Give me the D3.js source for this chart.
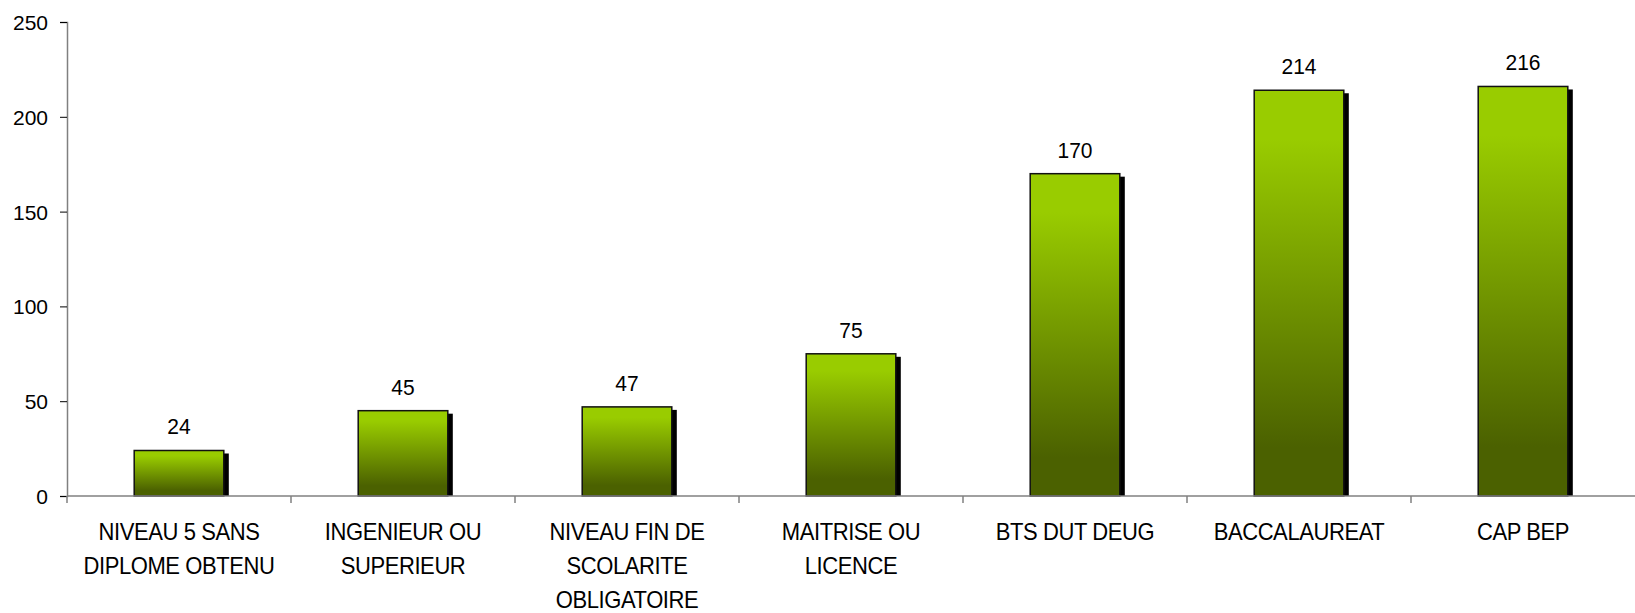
<!DOCTYPE html>
<html>
<head>
<meta charset="utf-8">
<script src="https://cdn.jsdelivr.net/npm/d3@7"></script>
<style>
  body { margin: 0; background: #fff; }
  svg text { font-family: "Liberation Sans", Arial, sans-serif; fill: #000; }
</style>
</head>
<body>
<script>
// donnees du graphique
var categories = [
    "NIVEAU 5 SANS\nDIPLOME OBTENU",
    "INGENIEUR OU\nSUPERIEUR",
    "NIVEAU FIN DE\nSCOLARITE\nOBLIGATOIRE",
    "MAITRISE OU\nLICENCE",
    "BTS DUT DEUG",
    "BACCALAUREAT",
    "CAP BEP"
];
var effectifs = [24, 45, 47, 75, 170, 214, 216];
var yTicks = [0, 50, 100, 150, 200, 250];

var width = 1635;
var height = 613;
var margin = { top: 22, right: 0, bottom: 117, left: 67 };

var svg = d3.select("body").append("svg")
    .attr("width", width)
    .attr("height", height);

var x = d3.scaleBand()
    .domain(categories)
    .range([margin.left, width - margin.right])
    .paddingInner(0)
    .paddingOuter(0);

var y = d3.scaleLinear()
    .domain([0, 250])
    .range([height - margin.bottom, margin.top]);

// degrade vert des barres
var grad = svg.append("defs").append("linearGradient")
    .attr("id", "vert")
    .attr("x1", 0).attr("y1", 0)
    .attr("x2", 0).attr("y2", 1);
grad.append("stop").attr("offset", "0%").attr("stop-color", "#99cc00");
grad.append("stop").attr("offset", "12%").attr("stop-color", "#99cc00");
grad.append("stop").attr("offset", "88%").attr("stop-color", "#4b6100");
grad.append("stop").attr("offset", "100%").attr("stop-color", "#4b6100");

var barW = x.bandwidth() * 0.40;

var bars = svg.selectAll(".barre")
    .data(effectifs)
    .enter()
    .append("g")
    .attr("class", "barre");

// ombre noire
bars.append("rect")
    .attr("x", function (d, i) { return x(categories[i]) + (x.bandwidth() - barW) / 2 + 5; })
    .attr("y", function (d) { return y(d) + 3; })
    .attr("width", barW)
    .attr("height", function (d) { return y(0) - y(d) - 3; })
    .attr("fill", "#000");

bars.append("rect")
    .attr("x", function (d, i) { return x(categories[i]) + (x.bandwidth() - barW) / 2; })
    .attr("y", function (d) { return y(d); })
    .attr("width", barW)
    .attr("height", function (d) { return y(0) - y(d); })
    .attr("fill", "url(#vert)")
    .attr("stroke", "#111")
    .attr("stroke-width", 1.5);

// valeurs au-dessus des barres (texte un peu etire verticalement)
bars.append("text")
    .attr("text-anchor", "middle")
    .style("font-size", "21px")
    .attr("transform", function (d, i) {
        return "translate(" + (x(categories[i]) + x.bandwidth() / 2) + "," + (y(d) - 16) + ") scale(1,1.06)";
    })
    .text(function (d) { return d; });

// axe Y
var yAxis = svg.append("g")
    .attr("transform", "translate(" + margin.left + ",0)")
    .call(d3.axisLeft(y).tickValues(yTicks).tickSize(7).tickPadding(12));
yAxis.select(".domain").attr("stroke", "#808080").attr("stroke-width", 1.5);
yAxis.selectAll(".tick line").attr("stroke", "#000");
yAxis.selectAll(".tick text").style("font-size", "21px").attr("dy", "0.36em");

// axe X
var xAxisG = svg.append("g")
    .attr("transform", "translate(0," + y(0) + ")");
xAxisG.append("line")
    .attr("x1", margin.left).attr("x2", width - margin.right)
    .attr("y1", 0).attr("y2", 0)
    .attr("stroke", "#808080")
    .attr("stroke-width", 1.5);
xAxisG.selectAll(".sep")
    .data(categories)
    .enter()
    .append("line")
    .attr("x1", function (d) { return x(d); })
    .attr("x2", function (d) { return x(d); })
    .attr("y1", 0).attr("y2", 7)
    .attr("stroke", "#808080")
    .attr("stroke-width", 1.5);

var labels = xAxisG.selectAll(".cat")
    .data(categories)
    .enter()
    .append("text")
    .attr("class", "cat")
    .attr("text-anchor", "middle")
    .style("font-size", "22px")
    .style("letter-spacing", "-0.4px")
    .attr("transform", function (d) { return "translate(" + (x(d) + x.bandwidth() / 2) + ",44) scale(1,1.07)"; });

labels.each(function (d) {
    var t = d3.select(this);
    d.split("\n").forEach(function (ligne, k) {
        t.append("tspan")
            .attr("x", 0)
            .attr("y", k * 34 / 1.07)
            .text(ligne);
    });
});
</script>
</body>
</html>
